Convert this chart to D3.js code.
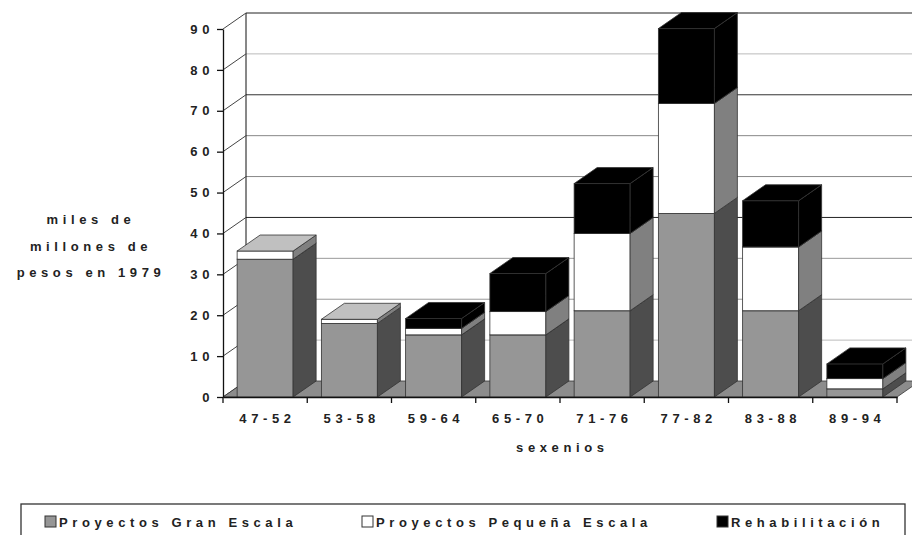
<!DOCTYPE html>
<html>
<head>
<meta charset="utf-8">
<script src="https://cdn.jsdelivr.net/npm/d3@7"></script>
<style>
    body { margin: 0; background: #fff; }
    text {
        font-family: "Liberation Sans", Arial, sans-serif;
        font-weight: bold;
        font-size: 13px;
        fill: #222;
        letter-spacing: 4.6px;
    }
</style>
</head>
<body>
<svg id="chart" width="912" height="535"></svg>
<script>
// data (miles de millones de pesos en 1979)
const sexenios = ["47-52", "53-58", "59-64", "65-70", "71-76", "77-82", "83-88", "89-94"];
const granEscala = [33.7, 18.0, 15.2, 15.2, 21.1, 44.9, 21.1, 2.0];
const pequenaEscala = [2.0, 1.0, 1.6, 5.7, 18.9, 26.9, 15.6, 2.5];
const rehabilitacion = [0, 0, 2.4, 9.3, 12.2, 18.3, 11.3, 3.6];
const seriesNames = ["Proyectos Gran Escala", "Proyectos Pequeña Escala", "Rehabilitación"];
const yTicks = [0, 10, 20, 30, 40, 50, 60, 70, 80, 90];

// colors for each series: front, side, top
const faces = [
    { front: "#969696", side: "#4d4d4d", top: "#b4b4b4" },
    { front: "#ffffff", side: "#808080", top: "#c0c0c0" },
    { front: "#000000", side: "#000000", top: "#000000" }
];

const svg = d3.select("#chart");

// 3D depth offset
const dx = 23, dy = -16;

var x = d3.scaleBand()
    .domain(sexenios)
    .range([223, 897]);

var y = d3.scaleLinear()
    .domain([0, 90])
    .range([397, 29]);

const right = x.range()[1];
const barW = 56;

// back wall gridlines look heavier on some levels in the original
const gridStroke = v => ({ 90: "#222", 80: "#bbb", 70: "#333", 60: "#888", 50: "#888",
                           40: "#222", 30: "#999", 20: "#999", 10: "#bbb" })[v] || "#888";

// back wall
svg.selectAll(".grid")
    .data(yTicks.filter(v => v > 0))
    .join("line")
    .attr("class", "grid")
    .attr("x1", x.range()[0] + dx)
    .attr("x2", right + dx)
    .attr("y1", d => y(d) + dy)
    .attr("y2", d => y(d) + dy)
    .attr("stroke", gridStroke)
    .attr("stroke-width", 1);

svg.append("line")
    .attr("x1", x.range()[0] + dx).attr("x2", x.range()[0] + dx)
    .attr("y1", y(90) + dy).attr("y2", y(0) + dy)
    .attr("stroke", "#111");

// side wall diagonals
svg.selectAll(".sidegrid")
    .data(yTicks)
    .join("line")
    .attr("class", "sidegrid")
    .attr("x1", x.range()[0])
    .attr("x2", x.range()[0] + dx)
    .attr("y1", d => y(d))
    .attr("y2", d => y(d) + dy)
    .attr("stroke", "#444");

// floor
svg.append("polygon")
    .attr("points", [
        [x.range()[0], y(0)], [right, y(0)],
        [right + dx, y(0) + dy], [x.range()[0] + dx, y(0) + dy]
    ].join(" "))
    .attr("fill", "#8c8c8c")
    .attr("stroke", "#333")
    .attr("stroke-width", 0.8);

// stacked bars
const table = sexenios.map((s, i) => ({
    sexenio: s,
    [seriesNames[0]]: granEscala[i],
    [seriesNames[1]]: pequenaEscala[i],
    [seriesNames[2]]: rehabilitacion[i]
}));
const stacked = d3.stack().keys(seriesNames)(table);

sexenios.forEach((s, i) => {
    const x0 = x(s) + (x.bandwidth() - barW) / 2;
    const x1 = x0 + barW;
    const g = svg.append("g").attr("class", "bar");
    stacked.forEach((layer, k) => {
        const [lo, hi] = layer[i];
        if (hi - lo <= 0) return;
        const yb = y(lo), yt = y(hi);
        const c = faces[k];
        g.append("rect")
            .attr("x", x0).attr("y", yt)
            .attr("width", barW).attr("height", yb - yt)
            .attr("fill", c.front)
            .attr("stroke", "#333").attr("stroke-width", 0.8);
        g.append("polygon")
            .attr("points", [[x1, yb], [x1 + dx, yb + dy], [x1 + dx, yt + dy], [x1, yt]].join(" "))
            .attr("fill", c.side)
            .attr("stroke", "#333").attr("stroke-width", 0.8);
        g.append("polygon")
            .attr("points", [[x0, yt], [x0 + dx, yt + dy], [x1 + dx, yt + dy], [x1, yt]].join(" "))
            .attr("fill", c.top)
            .attr("stroke", "#333").attr("stroke-width", 0.8);
    });
});

// y axis
var yAxis = d3.axisLeft(y)
    .tickValues(yTicks)
    .tickSize(6)
    .tickSizeOuter(0)
    .tickPadding(3);

svg.append("g")
    .attr("transform", `translate(${x.range()[0]},0)`)
    .call(yAxis)
    .call(g => g.selectAll("line, path").attr("stroke", "#111").attr("stroke-width", 1.3))
    .call(g => g.selectAll("text").attr("font-size", null).attr("font-family", null));

// x axis: labels at band centres, ticks at band edges
var xAxis = d3.axisBottom(x)
    .tickSize(0)
    .tickSizeOuter(0)
    .tickPadding(17);

svg.append("g")
    .attr("transform", `translate(0,${y(0)})`)
    .call(xAxis)
    .call(g => g.select(".domain").attr("stroke", "#111").attr("stroke-width", 1.3))
    .call(g => g.selectAll("text").attr("font-size", null).attr("font-family", null).attr("dx", "2.3"));

svg.selectAll(".xtick")
    .data(sexenios.map(s => x(s)).concat([right]))
    .join("line")
    .attr("class", "xtick")
    .attr("x1", d => d).attr("x2", d => d)
    .attr("y1", y(0)).attr("y2", y(0) + 6)
    .attr("stroke", "#111")
    .attr("stroke-width", 1.3);

// axis titles
svg.append("text")
    .attr("x", (x.range()[0] + right) / 2 + 2.3)
    .attr("y", 452)
    .attr("text-anchor", "middle")
    .text("sexenios");

const yTitle = ["miles de", "millones de", "pesos en 1979"];
svg.selectAll(".ytitle")
    .data(yTitle)
    .join("text")
    .attr("class", "ytitle")
    .attr("x", 91)
    .attr("y", (d, i) => 224 + i * 26.5)
    .attr("text-anchor", "middle")
    .text(d => d);

// legend
svg.append("rect")
    .attr("x", 21).attr("y", 504)
    .attr("width", 884).attr("height", 40)
    .attr("fill", "none")
    .attr("stroke", "#333")
    .attr("stroke-width", 1.3);

const legendX = [45, 362, 717];
const legend = svg.selectAll(".legend")
    .data(seriesNames)
    .join("g")
    .attr("class", "legend")
    .attr("transform", (d, i) => `translate(${legendX[i]},516)`);

legend.append("rect")
    .attr("width", 11).attr("height", 11)
    .attr("fill", (d, i) => faces[i].front)
    .attr("stroke", "#333");

legend.append("text")
    .attr("x", 14)
    .attr("y", 10.5)
    .text(d => d);
</script>
</body>
</html>
